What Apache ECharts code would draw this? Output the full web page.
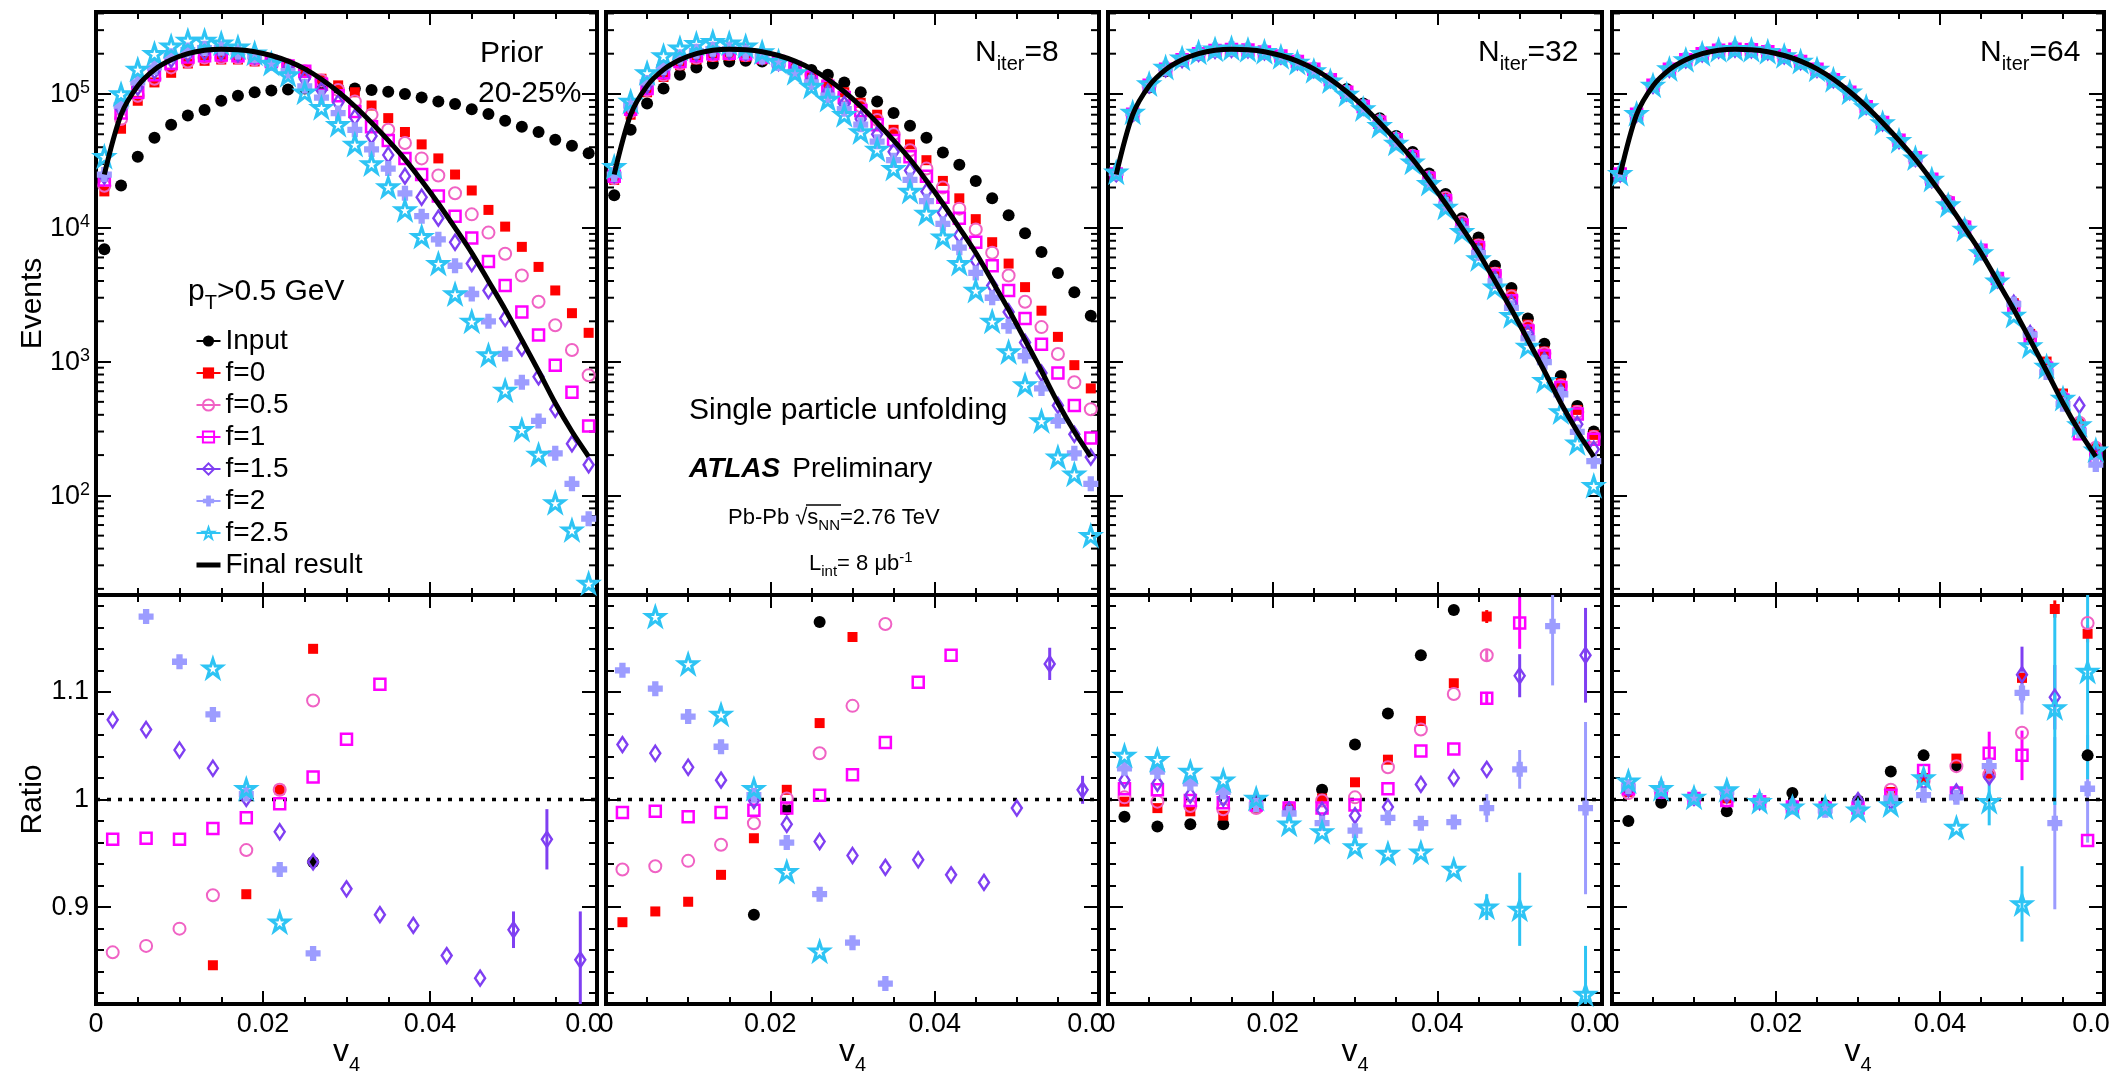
<!DOCTYPE html>
<html>
<head>
<meta charset="utf-8">
<title>Single particle unfolding of v4</title>
<script src="https://cdn.jsdelivr.net/npm/echarts@6.0.0/dist/echarts.min.js"></script>
<style>
html, body { margin: 0; padding: 0; background: #ffffff; }
#chart { width: 2112px; height: 1075px; }
</style>
</head>
<body>
<div id="chart"></div>
<script>
// ---------- bin centres in v4 ----------
const fineBins = [0.001, 0.003, 0.005, 0.007, 0.009, 0.011, 0.013, 0.015, 0.017, 0.019,
                  0.021, 0.023, 0.025, 0.027, 0.029, 0.031, 0.033, 0.035, 0.037, 0.039,
                  0.041, 0.043, 0.045, 0.047, 0.049, 0.051, 0.053, 0.055, 0.057, 0.059];
const coarseBins = [0.002, 0.006, 0.010, 0.014, 0.018, 0.022, 0.026, 0.030,
                    0.034, 0.038, 0.042, 0.046, 0.050, 0.054, 0.058];

// ---------- axis ranges and ticks ----------
const eventsMin = 18, eventsMax = 410000;
const ratioMin = 0.81, ratioMax = 1.19;
const unityRatio = 1;
const logMinorTicks = [20, 30, 40, 50, 60, 70, 80, 90,
                       200, 300, 400, 500, 600, 700, 800, 900,
                       2000, 3000, 4000, 5000, 6000, 7000, 8000, 9000,
                       20000, 30000, 40000, 50000, 60000, 70000, 80000, 90000,
                       200000, 300000, 400000];

// ---------- final unfolded distribution (same in every panel) ----------
const finalResult = [25000, 70000, 115000, 152000, 180000, 200000, 212000, 216000, 214000, 207000,
                     194000, 176000, 154000, 129000, 104000, 81000, 61000, 45000, 32500, 22500,
                     15200, 10000, 6500, 4000, 2450, 1450, 850, 490, 300, 195];

// ---------- Prior panel (events) ----------
const priorInput = [6900, 20700, 34000, 47000, 59000, 69000, 76000, 89000, 97000, 103000, 106000, 108000, 110000, 111000, 111000, 110000, 107000, 104000, 100000, 94000, 88000, 84000, 77000, 71000, 63000, 57000, 52000, 45500, 41000, 36000];
const priorF0 = [18700, 55000, 89000, 122000, 144000, 169000, 177000, 181000, 181000, 175000, 166000, 164000, 148000, 130000, 116000, 103000, 82000, 66000, 52000, 42000, 33000, 25000, 19000, 13600, 10200, 7200, 5100, 3400, 2300, 1640];
const priorF05 = [20600, 65000, 97000, 130000, 158000, 175000, 187000, 187000, 187000, 181000, 175000, 164000, 148000, 126000, 107000, 88000, 70000, 54000, 43000, 33000, 24600, 18100, 12600, 9200, 6400, 4400, 2800, 1870, 1220, 790];
const priorF1 = [22800, 72000, 103000, 139000, 169000, 189000, 193000, 196000, 193000, 187000, 175000, 162000, 148000, 118000, 97000, 74000, 57000, 45000, 33000, 25000, 17300, 12200, 8400, 5600, 3700, 2350, 1580, 940, 590, 330];
const priorF15 = [24300, 77000, 112000, 148000, 181000, 200000, 206000, 206000, 200000, 193000, 175000, 155000, 130000, 107000, 86000, 67000, 48500, 35000, 24300, 16900, 11800, 7800, 5400, 3400, 2100, 1260, 770, 440, 243, 169];
const priorF2 = [25000, 82000, 122000, 158000, 193000, 213000, 220000, 220000, 206000, 193000, 169000, 148000, 114000, 94000, 72000, 54000, 38500, 27700, 18100, 12200, 8200, 5200, 3200, 2000, 1140, 700, 360, 206, 122, 67];
const priorF25 = [34000, 100000, 153000, 200000, 228000, 251000, 251000, 240000, 224000, 202000, 169000, 139000, 103000, 79000, 59000, 42000, 30000, 20200, 13600, 8600, 5400, 3200, 2000, 1120, 610, 310, 202, 88, 55, 22];

// ---------- N_iter = 8 panel (events) ----------
const iter8Input = [17500, 54000, 85000, 110000, 139000, 158000, 169000, 175000, 177000, 175000, 166000, 162000, 151000, 139000, 122000, 103000, 88000, 72000, 58000, 47000, 36500, 29600, 22400, 16600, 12400, 9100, 6600, 4600, 3300, 2200];
const iter8F0 = [22800, 70000, 103000, 134000, 164000, 181000, 189000, 193000, 189000, 181000, 169000, 155000, 136000, 120000, 103000, 86000, 70000, 54000, 42000, 32000, 22400, 16600, 11600, 7800, 5400, 3600, 2400, 1530, 940, 630];
const iter8F05 = [23500, 74000, 107000, 139000, 169000, 187000, 196000, 200000, 196000, 187000, 175000, 158000, 139000, 118000, 97000, 81000, 64000, 50000, 38000, 27700, 20000, 13900, 9700, 6500, 4400, 2800, 1810, 1140, 700, 440];
const iter8F1 = [24300, 77000, 110000, 144000, 175000, 193000, 200000, 202000, 200000, 189000, 175000, 158000, 134000, 114000, 94000, 75000, 59000, 45000, 34000, 24300, 16900, 11800, 7800, 5200, 3400, 2100, 1350, 820, 470, 268];
const iter8F15 = [25000, 79000, 116000, 153000, 184000, 202000, 210000, 210000, 204000, 191000, 172000, 151000, 128000, 103000, 84000, 65000, 50000, 37000, 26800, 18700, 13000, 8800, 5700, 3700, 2350, 1390, 820, 470, 286, 193];
const iter8F2 = [25000, 82000, 122000, 158000, 189000, 209000, 216000, 216000, 206000, 189000, 169000, 146000, 122000, 97000, 77000, 59000, 44000, 32000, 22800, 15800, 10700, 7100, 4600, 3000, 1840, 1100, 630, 360, 206, 122];
const iter8F25 = [28600, 88000, 144000, 193000, 220000, 238000, 246000, 240000, 228000, 206000, 175000, 144000, 114000, 91000, 70000, 52000, 38500, 27700, 18700, 12800, 8500, 5400, 3400, 2000, 1180, 670, 360, 193, 144, 50];

// ---------- N_iter = 32 panel (events) ----------
const iter32Input = [24600, 68900, 112000, 148000, 176000, 195000, 207000, 211000, 214000, 207000, 192000, 175000, 155000, 130000, 109000, 85000, 66000, 48600, 36900, 25500, 17900, 11800, 8450, 5200, 3550, 2100, 1360, 780, 465, 300];
const iter32F0 = [24900, 69900, 114000, 151000, 178000, 198000, 209000, 213000, 212000, 205000, 192000, 175000, 154000, 129000, 106000, 82300, 63300, 46700, 34900, 24100, 16800, 11100, 7600, 4680, 3190, 1890, 1190, 690, 435, 283];
const iter32F05 = [25050, 70100, 115000, 152000, 179000, 199000, 210000, 214000, 212000, 205000, 192000, 175000, 154000, 129000, 104000, 81200, 62800, 46400, 34500, 23900, 16700, 11000, 7370, 4540, 3060, 1810, 1150, 660, 420, 273];
const iter32F1 = [25250, 70700, 116000, 153000, 180000, 200000, 211000, 215000, 213000, 206000, 192000, 175000, 153000, 128000, 103000, 80600, 61600, 45500, 34000, 23500, 15900, 10500, 7110, 4380, 2850, 1690, 1100, 640, 405, 263];
const iter32F15 = [25450, 71300, 117000, 154000, 181000, 201000, 212000, 216000, 214000, 207000, 192000, 174000, 152000, 128000, 102000, 79800, 60600, 44700, 33000, 22800, 15500, 10200, 6680, 4110, 2730, 1620, 1020, 590, 340, 221];
const iter32F2 = [25700, 72000, 118000, 156000, 183000, 203000, 213000, 218000, 213000, 206000, 191000, 174000, 151000, 126000, 101000, 78700, 60000, 44200, 31800, 22000, 14900, 9790, 6450, 3970, 2520, 1490, 990, 570, 298, 180];
const iter32F25 = [26000, 72900, 119000, 158000, 185000, 205000, 216000, 220000, 214000, 207000, 190000, 172000, 149000, 125000, 99400, 77400, 58000, 42800, 30900, 21400, 14200, 9350, 5850, 3600, 2200, 1300, 720, 420, 246, 118];

// ---------- N_iter = 64 panel (events) ----------
const iter64Input = [24500, 68600, 115000, 152000, 180000, 200000, 210000, 214000, 214000, 207000, 195000, 177000, 153000, 128000, 104000, 81000, 62600, 46200, 33800, 23400, 15700, 10300, 6700, 4120, 2570, 1520, 890, 515, 312, 203];
const iter64F0 = [25200, 70500, 116000, 153000, 180000, 200000, 212000, 216000, 214000, 207000, 193000, 175000, 153000, 128000, 103000, 80400, 61400, 45300, 33200, 23000, 15800, 10400, 6660, 4100, 2730, 1610, 1000, 577, 346, 225];
const iter64F05 = [25150, 70400, 116000, 153000, 180000, 200000, 212000, 216000, 214000, 207000, 193000, 175000, 153000, 128000, 103000, 80400, 61500, 45400, 33100, 22900, 15700, 10300, 6650, 4090, 2600, 1540, 935, 540, 349, 227];
const iter64F1 = [25250, 70700, 116000, 153000, 180000, 200000, 212000, 216000, 214000, 207000, 193000, 175000, 153000, 128000, 103000, 80400, 61200, 45200, 33400, 23100, 15300, 10100, 6780, 4170, 2550, 1510, 890, 515, 289, 188];
const iter64F15 = [25250, 70700, 116000, 153000, 180000, 200000, 213000, 217000, 214000, 207000, 193000, 175000, 153000, 128000, 104000, 81000, 60900, 44900, 33000, 22900, 15300, 10100, 6640, 4080, 2730, 1620, 930, 537, 470, 200];
const iter64F2 = [25300, 70800, 116000, 154000, 180000, 200000, 213000, 218000, 214000, 207000, 193000, 175000, 152000, 128000, 103000, 80400, 61100, 45000, 32600, 22600, 15200, 10000, 6700, 4120, 2690, 1590, 830, 480, 303, 170];
const iter64F25 = [25400, 71200, 116000, 154000, 180000, 200000, 214000, 218000, 214000, 207000, 193000, 175000, 153000, 128000, 103000, 80200, 60700, 44800, 33200, 23000, 14800, 9740, 6490, 3990, 2210, 1310, 920, 530, 336, 218];

// ---------- ratios (null = outside the ratio window) ----------
const ratioPriorInput = [null, null, null, null, null, null, 0.942, null, null, null, null, null, null, null, null];
const ratioPriorF0 = [null, null, null, 0.846, 0.912, 1.009, 1.140, null, null, null, null, null, null, null, null];
const ratioPriorF05 = [0.858, 0.864, 0.880, 0.911, 0.953, 1.009, 1.092, null, null, null, null, null, null, null, null];
const ratioPriorF1 = [0.963, 0.964, 0.963, 0.973, 0.983, 0.996, 1.021, 1.056, 1.107, null, null, null, null, null, null];
const ratioPriorF15 = [1.074, 1.065, 1.046, 1.029, 1.001, 0.970, 0.942, 0.917, 0.893, 0.883, 0.855, 0.834, 0.879, 0.963, 0.851];
const ratioPriorF2 = [null, 1.170, 1.128, 1.079, 1.005, 0.935, 0.857, null, null, null, null, null, null, null, null];
const ratioPriorF25 = [null, null, null, 1.122, 1.010, 0.886, null, null, null, null, null, null, null, null, null];

const ratioIter8Input = [null, null, null, null, 0.893, 0.991, 1.165, null, null, null, null, null, null, null, null];
const ratioIter8F0 = [0.886, 0.896, 0.905, 0.930, 0.964, 1.009, 1.071, 1.151, null, null, null, null, null, null, null];
const ratioIter8F05 = [0.935, 0.938, 0.943, 0.958, 0.978, 1.001, 1.043, 1.087, 1.163, null, null, null, null, null, null];
const ratioIter8F1 = [0.988, 0.989, 0.984, 0.988, 0.990, 0.992, 1.004, 1.023, 1.053, 1.109, 1.134, null, null, null, null];
const ratioIter8F15 = [1.051, 1.043, 1.030, 1.018, 0.999, 0.977, 0.961, 0.948, 0.937, 0.944, 0.930, 0.923, 0.992, 1.126, 1.009];
const ratioIter8F2 = [1.120, 1.103, 1.077, 1.049, 1.004, 0.960, 0.912, 0.867, 0.829, null, null, null, null, null, null];
const ratioIter8F25 = [null, 1.170, 1.126, 1.079, 1.010, 0.933, 0.859, null, null, null, null, null, null, null, null];

const ratioIter32Input = [0.984, 0.975, 0.977, 0.977, 0.998, 0.992, 1.009, 1.051, 1.080, 1.134, 1.176, null, null, null, null];
const ratioIter32F0 = [0.998, 0.992, 0.989, 0.985, 0.992, 0.992, 1.001, 1.016, 1.037, 1.073, 1.108, 1.170, null, null, null];
const ratioIter32F05 = [1.002, 0.998, 0.994, 0.991, 0.992, 0.992, 0.999, 1.002, 1.030, 1.065, 1.098, 1.134, null, null, null];
const ratioIter32F1 = [1.010, 1.009, 0.999, 0.997, 0.995, 0.992, 0.992, 0.995, 1.010, 1.045, 1.047, 1.094, 1.164, null, null];
const ratioIter32F15 = [1.018, 1.015, 1.004, 1.001, 0.998, 0.990, 0.990, 0.985, 0.993, 1.014, 1.020, 1.028, 1.115, null, 1.134];
const ratioIter32F2 = [1.029, 1.026, 1.015, 1.007, 0.995, 0.987, 0.978, 0.971, 0.983, 0.978, 0.979, 0.992, 1.028, 1.161, 0.992];
const ratioIter32F25 = [1.041, 1.037, 1.026, 1.018, 1.001, 0.977, 0.970, 0.956, 0.950, 0.951, 0.935, 0.900, 0.898, null, 0.819];

const ratioIter64Input = [0.980, 0.997, 1.001, 0.989, 0.999, 1.006, 0.995, 0.999, 1.026, 1.041, 1.031, null, null, null, 1.041];
const ratioIter64F0 = [1.007, 1.007, 1.001, 1.001, 0.998, 0.994, 0.992, 0.993, 1.007, 1.020, 1.038, 1.024, 1.113, 1.177, 1.154];
const ratioIter64F05 = [1.006, 1.007, 1.001, 0.999, 0.998, 0.993, 0.992, 0.992, 1.009, 1.017, 1.031, 1.023, 1.062, null, 1.164];
const ratioIter64F1 = [1.010, 1.007, 1.001, 0.999, 0.998, 0.993, 0.992, 0.992, 1.004, 1.027, 1.006, 1.043, 1.041, null, 0.962];
const ratioIter64F15 = [1.010, 1.009, 1.002, 1.004, 0.998, 0.995, 0.992, 0.999, 0.998, 1.016, 1.007, 1.021, 1.116, 1.095, null];
const ratioIter64F2 = [1.012, 1.010, 1.002, 1.007, 0.999, 0.993, 0.990, 0.992, 1.001, 1.004, 1.002, 1.031, 1.099, 0.978, 1.010];
const ratioIter64F25 = [1.017, 1.010, 1.002, 1.009, 0.998, 0.993, 0.993, 0.990, 0.995, 1.020, 0.974, 0.998, 0.903, 1.085, 1.119];

// ---------- ratio uncertainties: [series index, bin index, half width] ----------
const errPrior = [[4, 12, 0.017], [4, 13, 0.028], [4, 14, 0.045]];
const errIter8 = [[4, 13, 0.015], [4, 14, 0.013]];
const errIter32 = [[1, 11, 0.006], [2, 11, 0.006], [3, 11, 0.006], [3, 12, 0.024], [4, 12, 0.020], [4, 14, 0.044],
                   [5, 11, 0.013], [5, 12, 0.018], [5, 13, 0.055], [5, 14, 0.080], [6, 11, 0.012], [6, 12, 0.034], [6, 14, 0.045]];
const errIter64 = [[1, 13, 0.008], [1, 14, 0.008], [3, 11, 0.020], [3, 12, 0.023], [4, 12, 0.026], [4, 13, 0.030],
                   [5, 12, 0.020], [5, 13, 0.080], [5, 14, 0.050], [6, 11, 0.022], [6, 12, 0.035], [6, 13, 0.090], [6, 14, 0.100]];

// ---------- labels ----------
const seriesNames = ['Input', 'f=0', 'f=0.5', 'f=1', 'f=1.5', 'f=2', 'f=2.5'];
const finalName = 'Final result';
const iterCounts = [8, 32, 64];

// ---------- style ----------
const FONT = '"Liberation Sans", Arial, Helvetica, sans-serif';
const seriesColors = ['#000000', '#ff0000', '#f062c4', '#ff00ff', '#7f3ff2', '#9c9cff', '#2ec4f4'];
const crossPath = 'path://M29,0 H71 V29 H100 V71 H71 V100 H29 V71 H0 V29 H29 Z';
const starPath = 'path://M50,2 L61.8,36.2 L97.6,36.2 L68.5,57.6 L79.4,91.8 L50,70.6 L20.6,91.8 L31.5,57.6 L2.4,36.2 L38.2,36.2 Z';
const markerStyles = [
  { symbol: 'circle', size: 12, fill: true },
  { symbol: 'rect', size: 10, fill: true },
  { symbol: 'circle', size: 12, fill: false, bw: 2 },
  { symbol: 'rect', size: 11, fill: false, bw: 2.5 },
  { symbol: 'diamond', size: [10, 15], fill: false, bw: 2.5 },
  { symbol: crossPath, size: 15, fill: true },
  { symbol: starPath, size: 18, fill: false, bw: 3 }
];
const panelLeft = [96, 606, 1108, 1612];
const panelWidth = [501, 493, 494, 492];
const topY = 12, topH = 583, botY = 595, botH = 409;
const tickStyle = { color: '#000', width: 2 };
const frameStyle = { color: '#000', width: 4, cap: 'square' };

const topSets = [
  [priorInput, priorF0, priorF05, priorF1, priorF15, priorF2, priorF25],
  [iter8Input, iter8F0, iter8F05, iter8F1, iter8F15, iter8F2, iter8F25],
  [iter32Input, iter32F0, iter32F05, iter32F1, iter32F15, iter32F2, iter32F25],
  [iter64Input, iter64F0, iter64F05, iter64F1, iter64F15, iter64F2, iter64F25]
];
const ratioSets = [
  [ratioPriorInput, ratioPriorF0, ratioPriorF05, ratioPriorF1, ratioPriorF15, ratioPriorF2, ratioPriorF25],
  [ratioIter8Input, ratioIter8F0, ratioIter8F05, ratioIter8F1, ratioIter8F15, ratioIter8F2, ratioIter8F25],
  [ratioIter32Input, ratioIter32F0, ratioIter32F05, ratioIter32F1, ratioIter32F15, ratioIter32F2, ratioIter32F25],
  [ratioIter64Input, ratioIter64F0, ratioIter64F05, ratioIter64F1, ratioIter64F15, ratioIter64F2, ratioIter64F25]
];
const errorSets = [errPrior, errIter8, errIter32, errIter64];

// rich-text presets for sub/superscripts
function richSet(main, sub, mainPad, supPad) {
  return {
    m: { fontSize: main, fontFamily: FONT, color: '#000', verticalAlign: 'bottom', padding: [0, 0, mainPad, 0] },
    s: { fontSize: sub, fontFamily: FONT, color: '#000', verticalAlign: 'bottom' },
    u: { fontSize: sub, fontFamily: FONT, color: '#000', verticalAlign: 'bottom', padding: [0, 0, supPad, 0] }
  };
}

function markerSeries(name, idx, xs, ys, grid) {
  const m = markerStyles[idx];
  const col = seriesColors[idx];
  const data = [];
  ys.forEach((v, i) => { if (v !== null) data.push([xs[i], v]); });
  return {
    type: 'line', name: name, xAxisIndex: 2 * grid, yAxisIndex: 2 * grid, data: data,
    symbol: m.symbol, symbolSize: m.size, showSymbol: true, showAllSymbol: true,
    lineStyle: { width: 0, color: col },
    itemStyle: m.fill ? { color: col, borderWidth: 0 }
                      : { color: 'rgba(0,0,0,0)', borderColor: col, borderWidth: m.bw },
    emphasis: { disabled: true }, z: 2
  };
}

function renderLogMinorTick(params, api) {
  const cs = params.coordSys;
  const y = api.coord([api.value(0), api.value(1)])[1];
  if (y < cs.y || y > cs.y + cs.height) return null;
  const len = 8;
  return {
    type: 'group', children: [
      { type: 'line', shape: { x1: cs.x, y1: y, x2: cs.x + len, y2: y }, style: { stroke: '#000', lineWidth: 2 } },
      { type: 'line', shape: { x1: cs.x + cs.width - len, y1: y, x2: cs.x + cs.width, y2: y }, style: { stroke: '#000', lineWidth: 2 } }
    ]
  };
}

function renderErrorBar(params, api) {
  const cs = params.coordSys;
  const p1 = api.coord([api.value(0), api.value(1)]);
  const p2 = api.coord([api.value(0), api.value(2)]);
  const yA = Math.max(Math.min(p1[1], p2[1]), cs.y);
  const yB = Math.min(Math.max(p1[1], p2[1]), cs.y + cs.height);
  return {
    type: 'line', shape: { x1: p1[0], y1: yA, x2: p1[0], y2: yB },
    style: { stroke: seriesColors[api.value(3)], lineWidth: 3 }
  };
}

function xTickLabel(v) {
  if (Math.abs(v) < 1e-9) return '0';
  if (Math.abs(v - 0.06) < 1e-9) return '{c|0.0}';
  return v.toFixed(2);
}

// ---------- grids and axes ----------
const grids = [], xAxes = [], yAxes = [];
for (let row = 0; row < 2; row++) {
  for (let p = 0; p < 4; p++) {
    grids.push({
      left: panelLeft[p], width: panelWidth[p],
      top: row === 0 ? topY : botY, height: row === 0 ? topH : botH,
      containLabel: false, outerBoundsMode: 'none'
    });
  }
}

for (let g = 0; g < 8; g++) {
  const bottomRow = g >= 4;
  const p = g % 4;
  const xCommon = {
    type: 'value', gridIndex: g, min: 0, max: 0.06, interval: 0.02,
    axisLine: { show: true, onZero: false, lineStyle: frameStyle },
    axisTick: { show: true, inside: true, length: 13, lineStyle: tickStyle },
    minorTick: { show: true, splitNumber: 4, length: 7, lineStyle: tickStyle },
    splitLine: { show: false }, minorSplitLine: { show: false }
  };
  const xBottom = Object.assign({}, xCommon, { position: 'bottom', axisLabel: { show: false } });
  if (bottomRow) {
    xBottom.axisLabel = {
      show: true, margin: 7, color: '#000', fontSize: 27, fontFamily: FONT,
      formatter: xTickLabel,
      rich: { c: { fontSize: 27, fontFamily: FONT, color: '#000', padding: [0, 26, 0, 0] } }
    };
    xBottom.name = '{v|v}{n|4}';
    xBottom.nameLocation = 'middle';
    xBottom.nameGap = 32;
    xBottom.nameMoveOverlap = false;
    xBottom.nameTextStyle = {
      rich: {
        v: { fontSize: 32, fontFamily: FONT, color: '#000', verticalAlign: 'bottom', padding: [0, 0, 7, 0] },
        n: { fontSize: 20, fontFamily: FONT, color: '#000', verticalAlign: 'bottom' }
      }
    };
  }
  const xTop = Object.assign({}, xCommon, { position: 'top', axisLabel: { show: false } });
  xAxes.push(xBottom, xTop);

  let yCommon;
  if (!bottomRow) {
    yCommon = {
      type: 'log', logBase: 10, gridIndex: g, min: eventsMin, max: eventsMax,
      axisLine: { show: true, onZero: false, lineStyle: frameStyle },
      axisTick: { show: true, inside: true, length: 15, lineStyle: tickStyle },
      minorTick: { show: false }, splitLine: { show: false }, minorSplitLine: { show: false }
    };
  } else {
    yCommon = {
      type: 'value', gridIndex: g, min: ratioMin, max: ratioMax,
      minInterval: 0.1, maxInterval: 0.1, splitNumber: 4,
      axisLine: { show: true, onZero: false, lineStyle: frameStyle },
      axisTick: { show: true, inside: true, length: 15, lineStyle: tickStyle },
      minorTick: { show: true, splitNumber: 5, length: 8, lineStyle: tickStyle },
      splitLine: { show: false }, minorSplitLine: { show: false }
    };
  }
  const yLeft = Object.assign({}, yCommon, { position: 'left', axisLabel: { show: false } });
  if (p === 0) {
    if (!bottomRow) {
      yLeft.axisLabel = {
        show: true, margin: 6, showMinLabel: false, showMaxLabel: false,
        formatter: v => '{b|10}{e|' + Math.round(Math.log10(v)) + '}',
        rich: {
          b: { fontSize: 27, fontFamily: FONT, color: '#000', verticalAlign: 'bottom' },
          e: { fontSize: 18, fontFamily: FONT, color: '#000', verticalAlign: 'bottom', padding: [0, 0, 11, 0] }
        }
      };
      yLeft.name = 'Events';
    } else {
      yLeft.axisLabel = {
        show: true, margin: 7, showMinLabel: false, showMaxLabel: false,
        color: '#000', fontSize: 27, fontFamily: FONT
      };
      yLeft.name = 'Ratio';
    }
    yLeft.nameLocation = 'middle';
    yLeft.nameGap = 48;
    yLeft.nameRotate = 90;
    yLeft.nameMoveOverlap = false;
    yLeft.nameTextStyle = { fontSize: 30, fontFamily: FONT, color: '#000' };
  }
  const yRight = Object.assign({}, yCommon, { position: 'right', axisLabel: { show: false } });
  yAxes.push(yLeft, yRight);
}

// ---------- series ----------
const series = [];
for (let p = 0; p < 4; p++) {
  const g = p;
  topSets[p].forEach((vals, s) => series.push(markerSeries(seriesNames[s], s, fineBins, vals, g)));
  series.push({
    type: 'line', name: finalName, xAxisIndex: 2 * g, yAxisIndex: 2 * g,
    data: fineBins.map((x, i) => [x, finalResult[i]]),
    symbol: 'none', smooth: 0.3,
    lineStyle: { width: 5, color: '#000' }, itemStyle: { color: '#000' }, z: 4
  });
  series.push({
    type: 'custom', name: 'log minor ticks', xAxisIndex: 2 * g, yAxisIndex: 2 * g,
    data: logMinorTicks.map(v => [0.03, v]), encode: { x: 0, y: 1 },
    renderItem: renderLogMinorTick, silent: true, z: 1
  });
}
for (let p = 0; p < 4; p++) {
  const g = 4 + p;
  series.push({
    type: 'line', name: 'ratio = 1', xAxisIndex: 2 * g, yAxisIndex: 2 * g,
    data: [[0, unityRatio], [0.06, unityRatio]], symbol: 'none',
    lineStyle: { color: '#000', width: 3.5, type: [4, 7] }, z: 1
  });
  series.push({
    type: 'custom', name: 'ratio uncertainty', xAxisIndex: 2 * g, yAxisIndex: 2 * g,
    data: errorSets[p].map(([s, j, e]) => {
      const r = ratioSets[p][s][j];
      return [coarseBins[j], r - e, r + e, s];
    }),
    encode: { x: 0, y: [1, 2] }, renderItem: renderErrorBar, silent: true, z: 1
  });
  ratioSets[p].forEach((vals, s) => series.push(markerSeries(seriesNames[s], s, coarseBins, vals, g)));
}

// ---------- annotations ----------
const R30 = richSet(30, 20, 6, 0);
const R22 = richSet(22, 15, 5, 14);
const graphics = [
  { type: 'text', x: 480, y: 54, style: { text: 'Prior', fontSize: 30, fontFamily: FONT, fill: '#000', align: 'left', verticalAlign: 'middle' } },
  { type: 'text', x: 478, y: 94, style: { text: '20-25%', fontSize: 30, fontFamily: FONT, fill: '#000', align: 'left', verticalAlign: 'middle' } },
  { type: 'text', x: 188, y: 295, style: { text: '{m|p}{s|T}{m|>0.5 GeV}', rich: R30, align: 'left', verticalAlign: 'middle' } },
  { type: 'text', x: 689, y: 411, style: { text: 'Single particle unfolding', fontSize: 30, fontFamily: FONT, fill: '#000', align: 'left', verticalAlign: 'middle' } },
  { type: 'text', x: 689, y: 469, style: {
      text: '{a|ATLAS}{p|Preliminary}',
      rich: {
        a: { fontSize: 28, fontFamily: FONT, fontWeight: 'bold', fontStyle: 'italic', color: '#000' },
        p: { fontSize: 28, fontFamily: FONT, color: '#000', padding: [0, 0, 0, 12] }
      },
      align: 'left', verticalAlign: 'middle' } },
  { type: 'text', x: 728, y: 520, style: { text: '{m|Pb-Pb \u221A}{m|s}{s|NN}{m|=2.76 TeV}', rich: R22, align: 'left', verticalAlign: 'middle' } },
  { type: 'line', shape: { x1: 806, y1: 505, x2: 841, y2: 505 }, style: { stroke: '#000', lineWidth: 1.5 } },
  { type: 'text', x: 809, y: 565, style: { text: '{m|L}{s|int}{m|= 8 \u03BCb}{u|-1}', rich: R22, align: 'left', verticalAlign: 'middle' } }
];
const iterX = [975, 1478, 1980];
iterCounts.forEach((n, i) => {
  graphics.push({ type: 'text', x: iterX[i], y: 56, style: { text: '{m|N}{s|iter}{m|=' + n + '}', rich: R30, align: 'left', verticalAlign: 'middle' } });
});

const legendData = seriesNames.map(n => ({ name: n }));
legendData.push({ name: finalName, lineStyle: { width: 5 }, itemStyle: { color: 'rgba(0,0,0,0)', borderWidth: 0, opacity: 0 } });

const option = {
  animation: false,
  backgroundColor: '#ffffff',
  grid: grids,
  xAxis: xAxes,
  yAxis: yAxes,
  legend: {
    show: true, orient: 'vertical', left: 194, top: 325, padding: 0,
    itemWidth: 24, itemHeight: 14, itemGap: 0, selectedMode: false,
    textStyle: { fontSize: 28, lineHeight: 32, fontFamily: FONT, color: '#000' },
    lineStyle: { width: 2 },
    data: legendData
  },
  graphic: graphics,
  series: series
};

const chart = echarts.init(document.getElementById('chart'), null, { renderer: 'canvas', width: 2112, height: 1075 });
chart.setOption(option);
</script>
</body>
</html>
